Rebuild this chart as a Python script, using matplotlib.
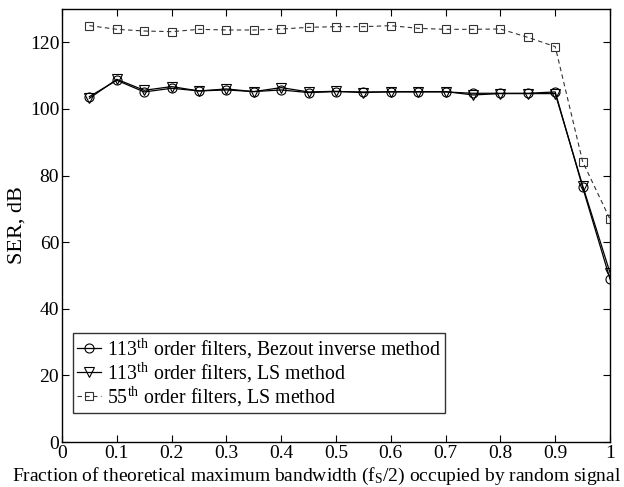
import matplotlib
matplotlib.use("Agg")
import matplotlib.pyplot as plt
import numpy as np

plt.rcParams['font.family'] = ['Liberation Serif']
plt.rcParams['mathtext.fontset'] = 'custom'
plt.rcParams['mathtext.rm'] = 'Liberation Serif'
plt.rcParams['mathtext.it'] = 'Liberation Serif:italic'

frac = [0.05, 0.1, 0.15, 0.2, 0.25, 0.3, 0.35, 0.4, 0.45, 0.5,
        0.55, 0.6, 0.65, 0.7, 0.75, 0.8, 0.85, 0.9, 0.95, 1.0]
bezout113 = [103.7, 108.6, 105.1, 106.2, 105.4, 105.7, 105.2, 105.7, 104.9, 105.2,
             105.1, 105.1, 105.1, 105.1, 104.7, 104.7, 104.7, 105.1, 76.5, 48.9]
ls113 = [103.2, 108.9, 105.6, 106.7, 105.4, 106.0, 105.2, 106.4, 105.1, 105.3,
         104.9, 105.2, 105.2, 105.2, 104.2, 104.6, 104.6, 104.6, 77.0, 50.8]
ls55 = [125.0, 123.9, 123.4, 123.2, 123.9, 123.7, 123.7, 124.0, 124.5, 124.7,
        124.7, 125.0, 124.2, 123.9, 123.9, 124.0, 121.5, 118.7, 84.2, 66.9]

labels = [r'113$^{\rm th}$ order filters, Bezout inverse method',
          r'113$^{\rm th}$ order filters, LS method',
          r'55$^{\rm th}$ order filters, LS method']

fig = plt.figure(figsize=(6.24, 4.87), dpi=100)
ax = fig.add_axes([0.0994, 0.0924, 0.8782, 0.8891])

ax.plot(frac, bezout113, '-', color='black', lw=0.9, marker='o', ms=6.5,
        mfc='none', mec='black', mew=0.8, label=labels[0])
ax.plot(frac, ls113, '-', color='black', lw=0.9, marker='v', ms=6.5,
        mfc='none', mec='black', mew=0.8, label=labels[1])
ax.plot(frac, ls55, '--', color='#333333', lw=0.8, marker='s', ms=5.5,
        mfc='none', mec='#333333', mew=0.8, dashes=(4, 3), label=labels[2])

ax.set_xlim(0, 1)
ax.set_ylim(0, 130)
ax.set_xticks(np.arange(0, 1.01, 0.1))
ax.set_xticklabels(['0', '0.1', '0.2', '0.3', '0.4', '0.5', '0.6', '0.7', '0.8', '0.9', '1'])
ax.set_yticks(np.arange(0, 121, 20))
ax.tick_params(direction='in', top=True, right=True, labelsize=14, length=5, pad=2)
for s in ax.spines.values():
    s.set_linewidth(1.0)

ax.set_ylabel('SER, dB', fontsize=16, labelpad=2)
ax.set_xlabel(r'Fraction of theoretical maximum bandwidth (f$_{\rm S}$/2) occupied by random signal',
              fontsize=14, labelpad=0)
ax.xaxis.set_label_coords(0.464, -0.055)

leg = ax.legend(loc='lower left', bbox_to_anchor=(0.02, 0.067), fontsize=14.3,
                frameon=True, fancybox=False, edgecolor='black', handlelength=1.2,
                handletextpad=0.3, borderpad=0.2, labelspacing=0.0, borderaxespad=0)
leg.get_frame().set_linewidth(1.0)

fig.savefig('out.png', dpi=100)
